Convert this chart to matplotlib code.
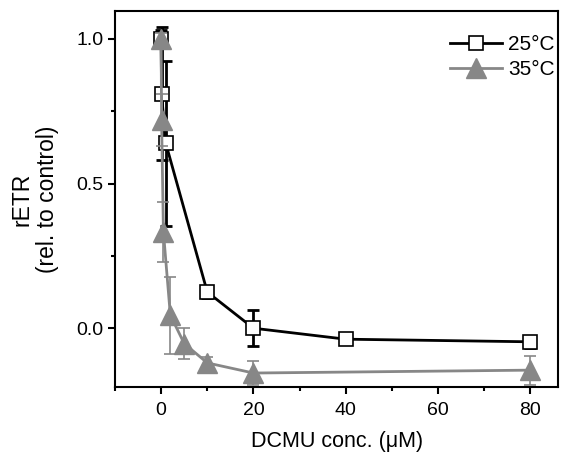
import numpy as np
import matplotlib.pyplot as plt

plt.rcParams['font.family'] = ['Liberation Sans', 'DejaVu Sans']

# DCMU concentration (uM) and relative ETR
conc_25 = [0, 0.1, 1, 10, 20, 40, 80]
retr_25 = [1.0, 0.81, 0.64, 0.125, 0.0, -0.038, -0.047]
err_25 = [0.03, 0.23, 0.285, 0.02, 0.063, 0.015, 0.02]

conc_35 = [0, 0.1, 0.5, 2, 5, 10, 20, 80]
retr_35 = [1.0, 0.72, 0.333, 0.045, -0.053, -0.12, -0.155, -0.145]
err_35 = [0.02, 0.09, 0.105, 0.133, 0.055, 0.02, 0.04, 0.05]

gray = '#878787'

fig = plt.figure(figsize=(5.69, 4.55), dpi=100)
ax = fig.add_axes([0.202, 0.149, 0.779, 0.827])

ax.errorbar(conc_25, retr_25, yerr=err_25, fmt='none', ecolor='black',
            elinewidth=2, capsize=4, capthick=2, zorder=2)
ax.plot(conc_25, retr_25, color='black', lw=2, marker='s', ms=10.5,
        mfc='white', mec='black', mew=1.2, label='25°C', zorder=3)
ax.errorbar(conc_35, retr_35, yerr=err_35, fmt='none', ecolor=gray,
            elinewidth=1.2, capsize=4, capthick=1.2, zorder=4)
ax.plot(conc_35, retr_35, color=gray, lw=2, marker='^', ms=14,
        mfc=gray, mec=gray, label='35°C', zorder=5)

ax.set_xlim(-10, 86)
ax.set_ylim(-0.204, 1.097)
ax.set_xticks([0, 20, 40, 60, 80])
ax.set_xticks([-10, 10, 30, 50, 70], minor=True)
ax.set_yticks([0.0, 0.5, 1.0])
ax.set_yticks([0.25, 0.75], minor=True)
ax.set_yticklabels(['0.0', '0.5', '1.0'])

for s in ax.spines.values():
    s.set_linewidth(1.5)
ax.tick_params(which='major', direction='out', length=5, width=1.5, labelsize=14)
ax.tick_params(which='minor', direction='out', length=3, width=1.5)
ax.tick_params(axis='x', pad=6)

ax.set_xlabel('DCMU conc. (μM)', fontsize=15.5, labelpad=8)
ax.set_ylabel('rETR\n(rel. to control)', fontsize=16.5, labelpad=12,
              linespacing=1.15)

ax.legend(loc='upper right', frameon=False, fontsize=15, handlelength=2.5,
          handletextpad=0.3, labelspacing=0.3, borderpad=0, borderaxespad=0,
          bbox_to_anchor=(555 / 569, 1 - 35 / 455), bbox_transform=fig.transFigure)

fig.savefig('out.png', dpi=100)
